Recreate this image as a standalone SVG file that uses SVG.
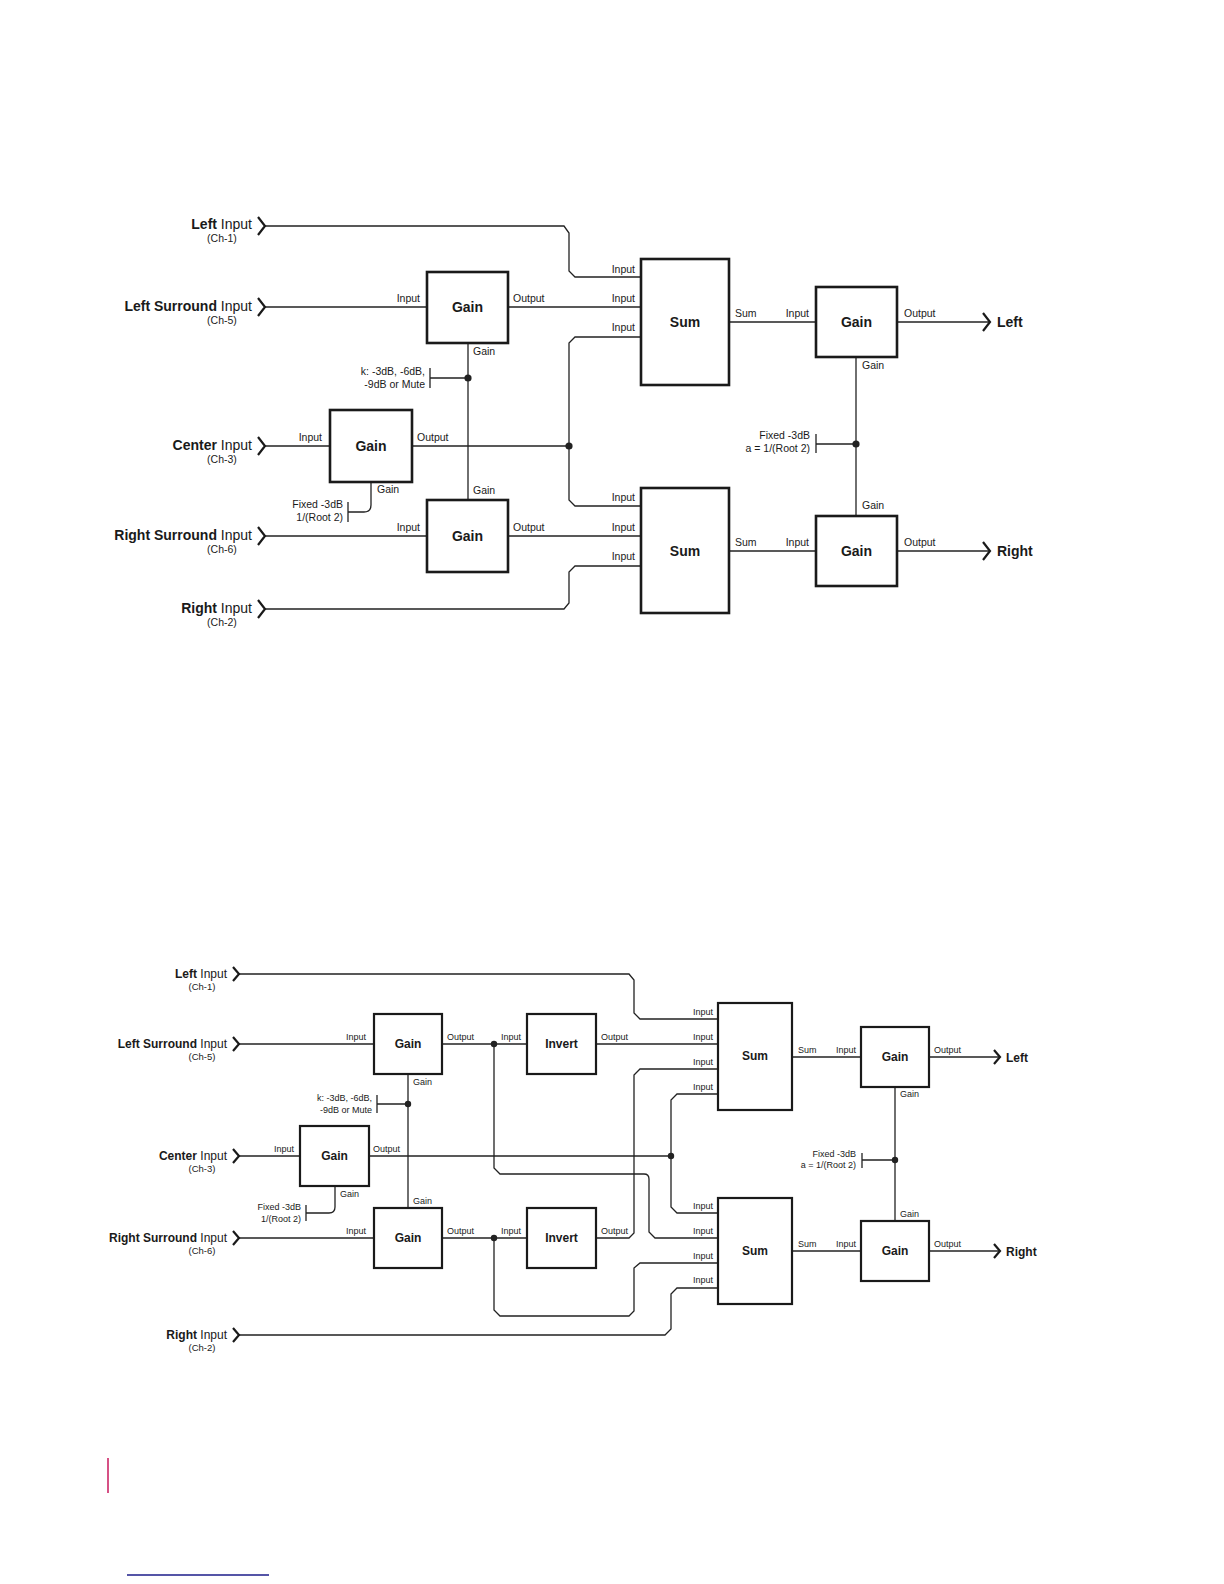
<svg xmlns="http://www.w3.org/2000/svg" width="1224" height="1584" viewBox="0 0 1224 1584">
<style>
text{font-family:"Liberation Sans",Arial,sans-serif;fill:#1a1a1a}
.ln{fill:none;stroke:#222;stroke-width:1.3}
.chev{fill:none;stroke:#1a1a1a;stroke-width:2.2;stroke-linejoin:miter}
.box{fill:#fff;stroke:#1a1a1a;stroke-width:2.6}
.box2{fill:#fff;stroke:#1a1a1a;stroke-width:2.2}
.dot{fill:#222}
.bt{font-size:14px;font-weight:bold;text-anchor:middle}
.bt2{font-size:12px;font-weight:bold;text-anchor:middle}
.lb{font-size:10.5px}
.lb2{font-size:9px}
.nm{font-size:14px;text-anchor:end}
.nm2{font-size:12px;text-anchor:end}
.ch{font-size:10.5px;text-anchor:middle}
.ch2{font-size:9.5px;text-anchor:middle}
.e{text-anchor:end}
.b{font-weight:bold}
</style>
<rect width="1224" height="1584" fill="#fff"/>

<!-- ================= UPPER DIAGRAM ================= -->
<g id="connectors-upper">
<path class="ln" d="M265,226 H564 L569,233 V271 L575,277 H641"/>
<path class="ln" d="M265,307 H427"/>
<path class="ln" d="M508,307 H641"/>
<path class="ln" d="M265,446 H330"/>
<path class="ln" d="M412,446 H569"/>
<path class="ln" d="M641,337 H575 L569,343 V500 L575,506 H641"/>
<path class="ln" d="M265,536 H427"/>
<path class="ln" d="M508,536 H641"/>
<path class="ln" d="M265,609 H564 L569,603 V572 L575,566 H641"/>
<path class="ln" d="M468,343 V500"/>
<path class="ln" d="M430,378 H468 M430,368 V388"/>
<path class="ln" d="M371,482 V505 Q371,512 364,512 H348 M348,502 V522"/>
<path class="ln" d="M729,322 H816"/>
<path class="ln" d="M729,551 H816"/>
<path class="ln" d="M897,322 H990"/>
<path class="ln" d="M897,551 H990"/>
<path class="ln" d="M856,357 V516"/>
<path class="ln" d="M816,444 H856 M816,434 V453"/>
<circle class="dot" cx="468" cy="378" r="3.6"/>
<circle class="dot" cx="569" cy="446" r="3.6"/>
<circle class="dot" cx="856" cy="444" r="3.6"/>
</g>

<g id="in-left-u">
<path class="chev" d="M258,217 L265,226 L258,235"/>
<text class="nm" x="252" y="229"><tspan class="b">Left</tspan> Input</text>
<text class="ch" x="222" y="242">(Ch-1)</text>
</g>
<g id="in-ls-u">
<path class="chev" d="M258,298 L265,307 L258,316"/>
<text class="nm" x="252" y="311"><tspan class="b">Left Surround</tspan> Input</text>
<text class="ch" x="222" y="324">(Ch-5)</text>
</g>
<g id="in-c-u">
<path class="chev" d="M258,437 L265,446 L258,455"/>
<text class="nm" x="252" y="450"><tspan class="b">Center</tspan> Input</text>
<text class="ch" x="222" y="463">(Ch-3)</text>
</g>
<g id="in-rs-u">
<path class="chev" d="M258,527 L265,536 L258,545"/>
<text class="nm" x="252" y="540"><tspan class="b">Right Surround</tspan> Input</text>
<text class="ch" x="222" y="553">(Ch-6)</text>
</g>
<g id="in-r-u">
<path class="chev" d="M258,600 L265,609 L258,618"/>
<text class="nm" x="252" y="613"><tspan class="b">Right</tspan> Input</text>
<text class="ch" x="222" y="626">(Ch-2)</text>
</g>

<g id="gain-ls-u">
<rect class="box" x="427" y="272" width="81" height="71"/>
<text class="bt" x="467.5" y="312">Gain</text>
<text class="lb e" x="420" y="302">Input</text>
<text class="lb" x="513" y="302">Output</text>
<text class="lb" x="473" y="355">Gain</text>
<text class="lb e" x="425" y="375">k: -3dB, -6dB,</text>
<text class="lb e" x="425" y="388">-9dB or Mute</text>
</g>
<g id="gain-c-u">
<rect class="box" x="330" y="410" width="82" height="72"/>
<text class="bt" x="371" y="451">Gain</text>
<text class="lb e" x="322" y="441">Input</text>
<text class="lb" x="417" y="441">Output</text>
<text class="lb" x="377" y="493">Gain</text>
<text class="lb e" x="343" y="508">Fixed -3dB</text>
<text class="lb e" x="343" y="521">1/(Root 2)</text>
</g>
<g id="gain-rs-u">
<rect class="box" x="427" y="500" width="81" height="72"/>
<text class="bt" x="467.5" y="541">Gain</text>
<text class="lb" x="473" y="494">Gain</text>
<text class="lb e" x="420" y="531">Input</text>
<text class="lb" x="513" y="531">Output</text>
</g>
<g id="sum-l-u">
<rect class="box" x="641" y="259" width="88" height="126"/>
<text class="bt" x="685" y="327">Sum</text>
<text class="lb e" x="635" y="273">Input</text>
<text class="lb e" x="635" y="302">Input</text>
<text class="lb e" x="635" y="331">Input</text>
<text class="lb" x="735" y="317">Sum</text>
</g>
<g id="sum-r-u">
<rect class="box" x="641" y="488" width="88" height="125"/>
<text class="bt" x="685" y="556">Sum</text>
<text class="lb e" x="635" y="501">Input</text>
<text class="lb e" x="635" y="531">Input</text>
<text class="lb e" x="635" y="560">Input</text>
<text class="lb" x="735" y="546">Sum</text>
</g>
<g id="gain-l-u">
<rect class="box" x="816" y="287" width="81" height="70"/>
<text class="bt" x="856.5" y="327">Gain</text>
<text class="lb e" x="809" y="317">Input</text>
<text class="lb" x="904" y="317">Output</text>
<text class="lb" x="862" y="369">Gain</text>
<text class="lb e" x="810" y="439">Fixed -3dB</text>
<text class="lb e" x="810" y="452">a = 1/(Root 2)</text>
</g>
<g id="gain-r-u">
<rect class="box" x="816" y="516" width="81" height="70"/>
<text class="bt" x="856.5" y="556">Gain</text>
<text class="lb" x="862" y="509">Gain</text>
<text class="lb e" x="809" y="546">Input</text>
<text class="lb" x="904" y="546">Output</text>
</g>
<g id="out-left-u">
<path class="chev" d="M983,313 L990,322 L983,331"/>
<text x="997" y="327" font-size="14" font-weight="bold">Left</text>
</g>
<g id="out-right-u">
<path class="chev" d="M983,542 L990,551 L983,560"/>
<text x="997" y="556" font-size="14" font-weight="bold">Right</text>
</g>

<!-- ================= LOWER DIAGRAM ================= -->
<g id="connectors-lower">
<path class="ln" d="M239,974 H629 L634,980 V1013 L640,1019 H718"/>
<path class="ln" d="M239,1044 H374"/>
<path class="ln" d="M442,1044 H527"/>
<path class="ln" d="M494,1044 V1168 L500,1174 H644 Q649,1174 649,1179 V1232 L655,1238 H718"/>
<path class="ln" d="M596,1044 H718"/>
<path class="ln" d="M718,1069 H640 L634,1075 V1233 L629,1238 H596"/>
<path class="ln" d="M239,1156 H300"/>
<path class="ln" d="M369,1156 H671"/>
<path class="ln" d="M718,1094 H677 L671,1100 V1207 L677,1213 H718"/>
<path class="ln" d="M239,1238 H374"/>
<path class="ln" d="M442,1238 H527"/>
<path class="ln" d="M494,1238 V1310 L500,1316 H629 L634,1311 V1268 L640,1263 H718"/>
<path class="ln" d="M239,1335 H665 L671,1329 V1294 L677,1288 H718"/>
<path class="ln" d="M408,1074 V1208"/>
<path class="ln" d="M377,1104 H408 M377,1095 V1113"/>
<path class="ln" d="M335,1186 V1207 Q335,1213 329,1213 H306 M306,1205 V1221"/>
<path class="ln" d="M792,1057 H861"/>
<path class="ln" d="M792,1251 H861"/>
<path class="ln" d="M929,1057 H1000"/>
<path class="ln" d="M929,1251 H1000"/>
<path class="ln" d="M895,1087 V1221"/>
<path class="ln" d="M862,1160 H895 M862,1153 V1168"/>
<circle class="dot" cx="408" cy="1104" r="3.2"/>
<circle class="dot" cx="494" cy="1044" r="3.2"/>
<circle class="dot" cx="494" cy="1238" r="3.2"/>
<circle class="dot" cx="671" cy="1156" r="3.2"/>
<circle class="dot" cx="895" cy="1160" r="3.2"/>
</g>

<g id="in-left-l">
<path class="chev" d="M233,967 L239,974 L233,981"/>
<text class="nm2" x="227" y="978"><tspan class="b">Left</tspan> Input</text>
<text class="ch2" x="202" y="990">(Ch-1)</text>
</g>
<g id="in-ls-l">
<path class="chev" d="M233,1037 L239,1044 L233,1051"/>
<text class="nm2" x="227" y="1048"><tspan class="b">Left Surround</tspan> Input</text>
<text class="ch2" x="202" y="1060">(Ch-5)</text>
</g>
<g id="in-c-l">
<path class="chev" d="M233,1149 L239,1156 L233,1163"/>
<text class="nm2" x="227" y="1160"><tspan class="b">Center</tspan> Input</text>
<text class="ch2" x="202" y="1172">(Ch-3)</text>
</g>
<g id="in-rs-l">
<path class="chev" d="M233,1231 L239,1238 L233,1245"/>
<text class="nm2" x="227" y="1242"><tspan class="b">Right Surround</tspan> Input</text>
<text class="ch2" x="202" y="1254">(Ch-6)</text>
</g>
<g id="in-r-l">
<path class="chev" d="M233,1328 L239,1335 L233,1342"/>
<text class="nm2" x="227" y="1339"><tspan class="b">Right</tspan> Input</text>
<text class="ch2" x="202" y="1351">(Ch-2)</text>
</g>

<g id="gain-ls-l">
<rect class="box2" x="374" y="1014" width="68" height="60"/>
<text class="bt2" x="408" y="1048">Gain</text>
<text class="lb2 e" x="366" y="1040">Input</text>
<text class="lb2" x="447" y="1040">Output</text>
<text class="lb2" x="413" y="1085">Gain</text>
<text class="lb2 e" x="372" y="1101">k: -3dB, -6dB,</text>
<text class="lb2 e" x="372" y="1113">-9dB or Mute</text>
</g>
<g id="gain-c-l">
<rect class="box2" x="300" y="1126" width="69" height="60"/>
<text class="bt2" x="334.5" y="1160">Gain</text>
<text class="lb2 e" x="294" y="1152">Input</text>
<text class="lb2" x="373" y="1152">Output</text>
<text class="lb2" x="340" y="1197">Gain</text>
<text class="lb2 e" x="301" y="1210">Fixed -3dB</text>
<text class="lb2 e" x="301" y="1222">1/(Root 2)</text>
</g>
<g id="gain-rs-l">
<rect class="box2" x="374" y="1208" width="68" height="60"/>
<text class="bt2" x="408" y="1242">Gain</text>
<text class="lb2" x="413" y="1204">Gain</text>
<text class="lb2 e" x="366" y="1234">Input</text>
<text class="lb2" x="447" y="1234">Output</text>
</g>
<g id="invert-u-l">
<rect class="box2" x="527" y="1014" width="69" height="60"/>
<text class="bt2" x="561.5" y="1048">Invert</text>
<text class="lb2" x="501" y="1040">Input</text>
<text class="lb2" x="601" y="1040">Output</text>
</g>
<g id="invert-d-l">
<rect class="box2" x="527" y="1208" width="69" height="60"/>
<text class="bt2" x="561.5" y="1242">Invert</text>
<text class="lb2" x="501" y="1234">Input</text>
<text class="lb2" x="601" y="1234">Output</text>
</g>
<g id="sum-l-l">
<rect class="box2" x="718" y="1003" width="74" height="107"/>
<text class="bt2" x="755" y="1060">Sum</text>
<text class="lb2 e" x="713" y="1015">Input</text>
<text class="lb2 e" x="713" y="1040">Input</text>
<text class="lb2 e" x="713" y="1065">Input</text>
<text class="lb2 e" x="713" y="1090">Input</text>
<text class="lb2" x="798" y="1053">Sum</text>
</g>
<g id="sum-r-l">
<rect class="box2" x="718" y="1198" width="74" height="106"/>
<text class="bt2" x="755" y="1255">Sum</text>
<text class="lb2 e" x="713" y="1209">Input</text>
<text class="lb2 e" x="713" y="1234">Input</text>
<text class="lb2 e" x="713" y="1259">Input</text>
<text class="lb2 e" x="713" y="1283">Input</text>
<text class="lb2" x="798" y="1247">Sum</text>
</g>
<g id="gain-l-l">
<rect class="box2" x="861" y="1027" width="68" height="60"/>
<text class="bt2" x="895" y="1061">Gain</text>
<text class="lb2" x="836" y="1053">Input</text>
<text class="lb2" x="934" y="1053">Output</text>
<text class="lb2" x="900" y="1097">Gain</text>
<text class="lb2 e" x="856" y="1157">Fixed -3dB</text>
<text class="lb2 e" x="856" y="1168">a = 1/(Root 2)</text>
</g>
<g id="gain-r-l">
<rect class="box2" x="861" y="1221" width="68" height="60"/>
<text class="bt2" x="895" y="1255">Gain</text>
<text class="lb2" x="900" y="1217">Gain</text>
<text class="lb2" x="836" y="1247">Input</text>
<text class="lb2" x="934" y="1247">Output</text>
</g>
<g id="out-left-l">
<path class="chev" d="M994,1050 L1000,1057 L994,1064"/>
<text x="1006" y="1062" font-size="12" font-weight="bold">Left</text>
</g>
<g id="out-right-l">
<path class="chev" d="M994,1244 L1000,1251 L994,1258"/>
<text x="1006" y="1256" font-size="12" font-weight="bold">Right</text>
</g>

<!-- page marks -->
<line x1="108" y1="1458" x2="108" y2="1493" stroke="#c8175d" stroke-width="1.5"/>
<line x1="127" y1="1575" x2="269" y2="1575" stroke="#1c1c8a" stroke-width="1.6"/>
</svg>
